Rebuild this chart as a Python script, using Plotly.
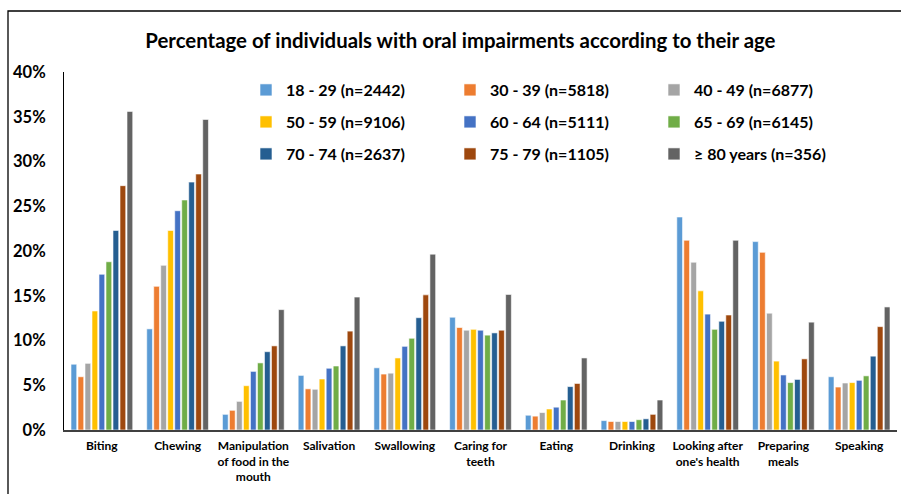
import plotly.graph_objects as go

categories = ["Biting", "Chewing", "Manipulation<br>of food in the<br>mouth", "Salivation",
              "Swallowing", "Caring for<br>teeth", "Eating", "Drinking",
              "Looking after<br>one's health", "Preparing<br>meals", "Speaking"]

series_names = ["18 - 29 (n=2442)", "30 - 39 (n=5818)", "40 - 49 (n=6877)",
                "50 - 59 (n=9106)", "60 - 64 (n=5111)", "65 - 69 (n=6145)",
                "70 - 74 (n=2637)", "75 - 79 (n=1105)", "\u2265 80 years (n=356)"]

colors = ["#5B9BD5", "#ED7D31", "#A5A5A5", "#FFC000", "#4472C4", "#70AD47",
          "#255E91", "#9E480E", "#636363"]

# values in percent, per age group, in category order
v_18_29 = [7.35, 11.3, 1.75, 6.1, 6.95, 12.6, 1.65, 1.05, 23.8, 21.05, 5.95]
v_30_39 = [5.95, 16.05, 2.2, 4.6, 6.25, 11.45, 1.55, 0.95, 21.2, 19.85, 4.8]
v_40_49 = [7.45, 18.4, 3.2, 4.55, 6.35, 11.15, 1.95, 0.95, 18.75, 13.05, 5.25]
v_50_59 = [13.3, 22.3, 4.95, 5.7, 8.05, 11.25, 2.35, 0.95, 15.55, 7.7, 5.3]
v_60_64 = [17.4, 24.5, 6.55, 6.9, 9.35, 11.15, 2.55, 0.95, 12.95, 6.15, 5.55]
v_65_69 = [18.8, 25.7, 7.5, 7.15, 10.25, 10.6, 3.35, 1.15, 11.25, 5.3, 6.05]
v_70_74 = [22.3, 27.7, 8.75, 9.4, 12.55, 10.85, 4.85, 1.25, 12.15, 5.65, 8.25]
v_75_79 = [27.3, 28.6, 9.4, 11.05, 15.1, 11.15, 5.2, 1.75, 12.85, 7.95, 11.55]
v_80 = [35.6, 34.7, 13.45, 14.85, 19.65, 15.15, 8.05, 3.35, 21.2, 12.05, 13.75]

all_values = [v_18_29, v_30_39, v_40_49, v_50_59, v_60_64, v_65_69, v_70_74, v_75_79, v_80]

y_ticks = [0, 0.05, 0.10, 0.15, 0.20, 0.25, 0.30, 0.35, 0.40]
y_tick_labels = ["0%", "5%", "10%", "15%", "20%", "25%", "30%", "35%", "40%"]

FONT = "Lato"
legend_ids = ["legend", "legend2", "legend3"]

fig = go.Figure()
for i, (name, vals, col) in enumerate(zip(series_names, all_values, colors)):
    fig.add_trace(go.Bar(
        x=categories, y=[v / 100 for v in vals], name=name,
        marker=dict(color=col, line=dict(color="white", width=0.6)),
        legend=legend_ids[i % 3], legendgroup=name,
        hoverinfo="skip",
    ))

W, H = 901, 494
L, R, T, B = 64, 4, 72, 64
pw = W - L - R
ph = H - T - B

def px_x(px):
    return (px - L) / pw

def px_y(py):
    return (H - B - py) / ph

leg_common = dict(
    orientation="v", traceorder="grouped", tracegroupgap=8.2,
    font=dict(family=FONT, size=16, color="black", weight="bold"),
    bgcolor="rgba(0,0,0,0)", xanchor="left", yanchor="top",
    itemclick=False, itemdoubleclick=False,
)
legend_text_x = [286, 490, 694]
legends = {}
for k, lid in enumerate(legend_ids):
    d = dict(leg_common)
    d["x"] = px_x(legend_text_x[k] - 40)
    d["y"] = px_y(73)
    legends[lid] = d

fig.update_layout(
    width=W, height=H,
    margin=dict(l=L, r=R, t=T, b=B),
    paper_bgcolor="white", plot_bgcolor="white",
    barmode="group", bargap=0.168, bargroupgap=0.18,
    title=dict(text="Percentage of individuals with oral impairments according to their age",
               x=0.511, xanchor="center", y=(H - 41) / H, yanchor="middle",
               font=dict(family=FONT, size=20.4, color="black", weight="bold")),
    font=dict(family=FONT, color="black"),
    showlegend=True,
    **legends,
)

fig.update_xaxes(
    showline=True, linecolor="#404040", linewidth=1.5,
    showgrid=False, ticks="outside", ticklen=4, tickcolor="rgba(0,0,0,0)",
    tickfont=dict(family=FONT, size=12, color="black", weight="bold"),
    fixedrange=True,
)
fig.update_yaxes(
    range=[0, 0.40], tickvals=y_ticks, ticktext=y_tick_labels,
    showline=True, linecolor="black", linewidth=1,
    showgrid=False, zeroline=False,
    ticks="outside", ticklen=14, tickcolor="rgba(0,0,0,0)",
    tickfont=dict(family=FONT, size=16.5, color="black", weight="bold"),
    fixedrange=True,
)

# outer chart border
fig.add_shape(type="rect", xref="paper", yref="paper",
              x0=px_x(8), y0=px_y(520), x1=px_x(930), y1=px_y(11),
              line=dict(color="black", width=1.3), fillcolor="rgba(0,0,0,0)",
              layer="below")

fig.write_html("out.html", config={"displayModeBar": False},
               post_script="document.body.style.margin='0';document.body.style.overflow='hidden';")
